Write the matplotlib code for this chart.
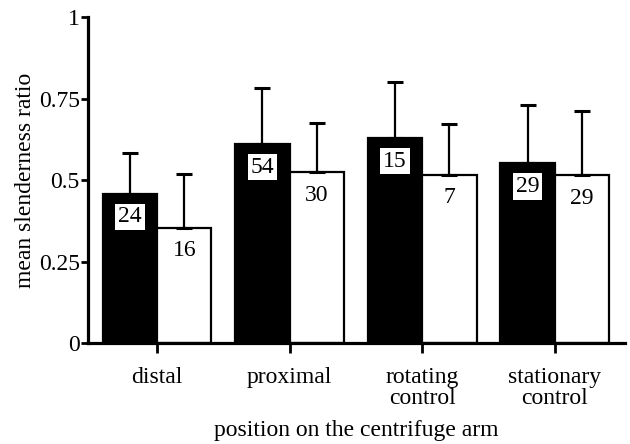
import numpy as np
import matplotlib
matplotlib.use("Agg")
from matplotlib import pyplot as plt

CATEGORIES = ["distal", "proximal", "rotating\ncontrol", "stationary\ncontrol"]
BLACK_MEANS = [0.457, 0.610, 0.628, 0.551]
BLACK_ERRS = [0.127, 0.172, 0.172, 0.180]
BLACK_COUNTS = ["24", "54", "15", "29"]
WHITE_MEANS = [0.353, 0.524, 0.515, 0.514]
WHITE_ERRS = [0.165, 0.151, 0.157, 0.199]
WHITE_COUNTS = ["16", "30", "7", "29"]
YTICKS = [0, 0.25, 0.5, 0.75, 1]
YTICKLABELS = ["0", "0.25", "0.5", "0.75", "1"]

plt.rcParams["font.family"] = ["Liberation Serif", "DejaVu Serif"]
plt.rcParams["font.size"] = 17

WIDTH = 0.41
LW = 1.6


def main():
    fig = plt.figure(figsize=(6.3, 4.44), dpi=100)
    ax = fig.add_axes([0.14, 0.2275, 0.852, 0.734])
    x = np.arange(len(CATEGORIES))
    xb = x - WIDTH / 2
    xw = x + WIDTH / 2

    err_kw = dict(ecolor="black", elinewidth=LW, capsize=6, capthick=2.2)
    ax.bar(xb, BLACK_MEANS, WIDTH, color="black", edgecolor="black",
           linewidth=LW, yerr=[np.zeros(4), BLACK_ERRS], error_kw=err_kw,
           zorder=2)
    ax.bar(xw, WHITE_MEANS, WIDTH, color="white", edgecolor="black",
           linewidth=LW, yerr=[np.zeros(4), WHITE_ERRS], error_kw=err_kw,
           zorder=2)

    for xi, h, lab in zip(xb, BLACK_MEANS, BLACK_COUNTS):
        ax.text(xi, h - 0.07, lab, ha="center", va="center", fontsize=17,
                bbox=dict(facecolor="white", edgecolor="none", pad=2),
                zorder=5)
    for xi, h, lab in zip(xw, WHITE_MEANS, WHITE_COUNTS):
        ax.text(xi, h - 0.07, lab, ha="center", va="center", fontsize=17,
                zorder=5)

    ax.set_xlim(-0.52, 3.53)
    ax.set_ylim(0, 1)
    ax.set_xticks(x)
    ax.set_xticklabels(CATEGORIES, linespacing=1.02)
    ax.set_yticks(YTICKS)
    ax.set_yticklabels(YTICKLABELS)
    ax.set_ylabel("mean slenderness ratio", labelpad=2)
    ax.set_xlabel("position on the centrifuge arm", labelpad=8)

    for side in ["top", "right"]:
        ax.spines[side].set_visible(False)
    for side in ["left", "bottom"]:
        ax.spines[side].set_linewidth(2.3)
    ax.tick_params(axis="y", length=5, width=2, pad=1)
    ax.tick_params(axis="x", length=7, width=2, pad=10)

    fig.savefig("out.png", dpi=100)
    plt.close(fig)


if __name__ == "__main__":
    main()
